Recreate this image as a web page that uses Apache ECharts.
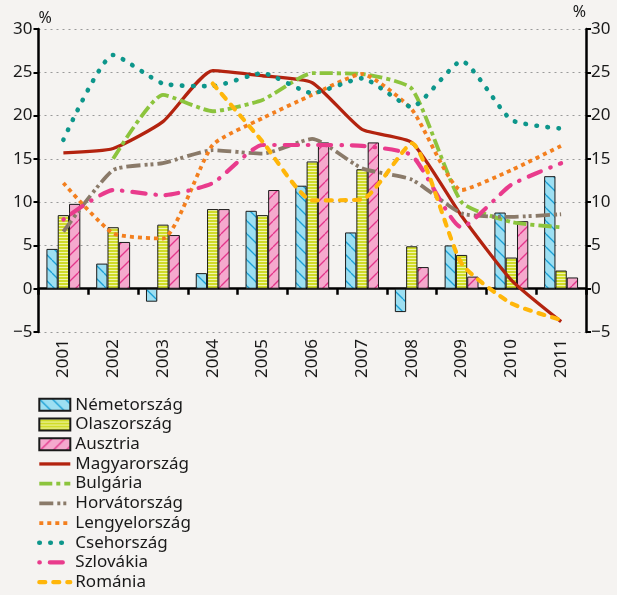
<!DOCTYPE html>
<html>
<head>
<meta charset="utf-8">
<script src="https://cdn.jsdelivr.net/npm/echarts@6/dist/echarts.min.js"></script>
<style>
html,body{margin:0;padding:0;background:#f5f3f1;}
#chart{width:617px;height:595px;}
</style>
</head>
<body>
<div id="chart"></div>
<script>
const years = ['2001','2002','2003','2004','2005','2006','2007','2008','2009','2010','2011'];
const yTicks = [-5, 0, 5, 10, 15, 20, 25, 30];
const nemetorszag = [4.6, 2.9, -1.5, 1.8, 9.0, 11.9, 6.5, -2.7, 5.0, 8.8, 13.0];
const olaszorszag = [8.5, 7.1, 7.4, 9.2, 8.5, 14.7, 13.8, 4.9, 3.9, 3.6, 2.1];
const ausztria = [9.8, 5.4, 6.2, 9.2, 11.4, 16.9, 16.9, 2.5, 1.4, 7.8, 1.3];
const magyarorszag = [15.7, 16.2, 19.3, 25.2, 24.6, 23.8, 18.4, 16.9, 8.4, 1.0, -3.8];
const bulgaria = [null, 15.0, 22.4, 20.5, 21.8, 24.9, 24.8, 23.1, 10.0, 7.7, 7.1];
const horvatorszag = [6.6, 13.7, 14.5, 16.0, 15.6, 17.3, 13.9, 12.6, 8.7, 8.3, 8.6];
const lengyelorszag = [12.2, 6.4, 5.8, 16.6, 19.7, 22.4, 24.8, 20.7, 11.4, 13.7, 16.5];
const csehorszag = [17.2, 27.0, 23.7, 23.4, 24.9, 22.6, 24.3, 21.0, 26.3, 19.5, 18.5];
const szlovakia = [8.0, 11.4, 10.8, 12.2, 16.6, 16.6, 16.5, 15.4, 7.1, 12.0, 14.5];
const romania = [null, null, null, 23.7, 17.0, 10.2, 10.3, 16.8, 2.9, -1.7, -3.6];

function makePattern(w, h, draw) {
  const c = document.createElement('canvas');
  c.width = w; c.height = h;
  const ctx = c.getContext('2d');
  draw(ctx, w, h);
  return { image: c, repeat: 'repeat' };
}
const bluePat = makePattern(13, 13, (ctx, w, h) => {
  ctx.fillStyle = '#9ddff2'; ctx.fillRect(0, 0, w, h);
  ctx.strokeStyle = '#1a9fd5'; ctx.lineWidth = 1.3;
  for (const o of [-w, 0, w]) { ctx.beginPath(); ctx.moveTo(o, 0); ctx.lineTo(o + w, h); ctx.stroke(); }
});
const pinkPat = makePattern(13, 13, (ctx, w, h) => {
  ctx.fillStyle = '#f5a9cd'; ctx.fillRect(0, 0, w, h);
  ctx.strokeStyle = '#e3368b'; ctx.lineWidth = 1.3;
  for (const o of [-w, 0, w]) { ctx.beginPath(); ctx.moveTo(o, h); ctx.lineTo(o + w, 0); ctx.stroke(); }
});
const yellowPat = makePattern(4, 3, (ctx, w, h) => {
  ctx.fillStyle = '#d0dc28'; ctx.fillRect(0, 0, w, h);
  ctx.fillStyle = '#f1f5ac'; ctx.fillRect(0, 0, w, 1);
});

const FONT = 'Noto Sans';
const chart = echarts.init(document.getElementById('chart'), null, { renderer: 'canvas' });

function barSeries(name, data, pat) {
  return {
    name, type: 'bar', data, barWidth: 11.3, barGap: '0%',
    itemStyle: { color: pat, borderColor: '#1a1a1a', borderWidth: 1 },
    emphasis: { disabled: true }
  };
}
function lineSeries(name, data, color, type, width, cap) {
  return {
    name, type: 'line', data, symbol: 'none', smooth: 0.18,
    connectNulls: false,
    lineStyle: { color, width, type, cap: cap || 'butt' },
    itemStyle: { color },
    emphasis: { disabled: true }
  };
}

const series = [
  barSeries('Németország', nemetorszag, bluePat),
  barSeries('Olaszország', olaszorszag, yellowPat),
  barSeries('Ausztria', ausztria, pinkPat),
  lineSeries('Magyarország', magyarorszag, '#b3230f', 'solid', 3.3),
  lineSeries('Bulgária', bulgaria, '#8cc43d', [13, 4, 4, 4], 3.8),
  lineSeries('Horvátország', horvatorszag, '#8a7a69', [14, 4, 3, 3, 3, 4], 3.8),
  lineSeries('Lengyelország', lengyelorszag, '#f37f1e', [4, 4], 3.8),
  lineSeries('Csehország', csehorszag, '#0d968b', [0.5, 10.5], 4.6, 'round'),
  lineSeries('Szlovákia', szlovakia, '#e93b8c', [0.5, 10, 13, 10], 4.2, 'round'),
  lineSeries('Románia', romania, '#ffb60a', [6, 8], 4.2, 'round')
];

const legendData = series.map(s => s.type === 'line'
  ? { name: s.name, itemStyle: { opacity: 0 }, lineStyle: { width: s.lineStyle.width } }
  : { name: s.name, icon: 'rect' });

const axisFmt = v => (v < 0 ? '\u2212' + Math.abs(v) : String(v));

const option = {
  backgroundColor: '#f5f3f1',
  animation: false,
  textStyle: { fontFamily: FONT },
  grid: { left: 38.5, right: 31, top: 29, bottom: 263, containLabel: false },
  legend: {
    orient: 'vertical', left: 37, top: 395, padding: 0,
    height: 200,
    itemWidth: 31, itemHeight: 12, itemGap: 0,
    data: legendData,
    textStyle: { fontFamily: FONT, fontSize: 17, color: '#1a1a1a', lineHeight: 19.7 }
  },
  xAxis: [
    {
      type: 'category', data: years, position: 'bottom',
      axisLine: { onZero: true, lineStyle: { color: '#000', width: 2.5 } },
      axisTick: { show: true, inside: false, length: 6, lineStyle: { color: '#000', width: 2.5 } },
      axisLabel: { show: false }
    },
    {
      type: 'category', data: years, position: 'bottom',
      axisLine: { show: false, onZero: false },
      axisTick: { show: false },
      axisLabel: { rotate: 90, margin: 7, fontFamily: FONT, fontSize: 17, color: '#1a1a1a' }
    }
  ],
  yAxis: [
    {
      type: 'value', min: yTicks[0], max: yTicks[yTicks.length - 1], interval: 5, position: 'left',
      name: '%', nameLocation: 'end', nameGap: 3,
      nameTextStyle: { fontFamily: FONT, fontSize: 16, color: '#1a1a1a', align: 'left' },
      axisLine: { show: true, lineStyle: { color: '#000', width: 2.5 } },
      axisTick: { show: true, length: 5, lineStyle: { color: '#000', width: 2 } },
      axisLabel: { margin: 6, fontFamily: FONT, fontSize: 17, color: '#1a1a1a', formatter: axisFmt },
      splitLine: { show: true, lineStyle: { color: '#9a9a9a', width: 1, type: [2, 4] } }
    },
    {
      type: 'value', min: yTicks[0], max: yTicks[yTicks.length - 1], interval: 5, position: 'right',
      name: '%', nameLocation: 'end', nameGap: 3,
      nameTextStyle: { fontFamily: FONT, fontSize: 16, color: '#1a1a1a', align: 'right' },
      axisLine: { show: true, lineStyle: { color: '#000', width: 2.5 } },
      axisTick: { show: true, length: 5, lineStyle: { color: '#000', width: 2 } },
      axisLabel: { margin: 5, fontFamily: FONT, fontSize: 17, color: '#1a1a1a', formatter: axisFmt },
      splitLine: { show: false }
    }
  ],
  series
};
chart.setOption(option);
</script>
</body>
</html>
